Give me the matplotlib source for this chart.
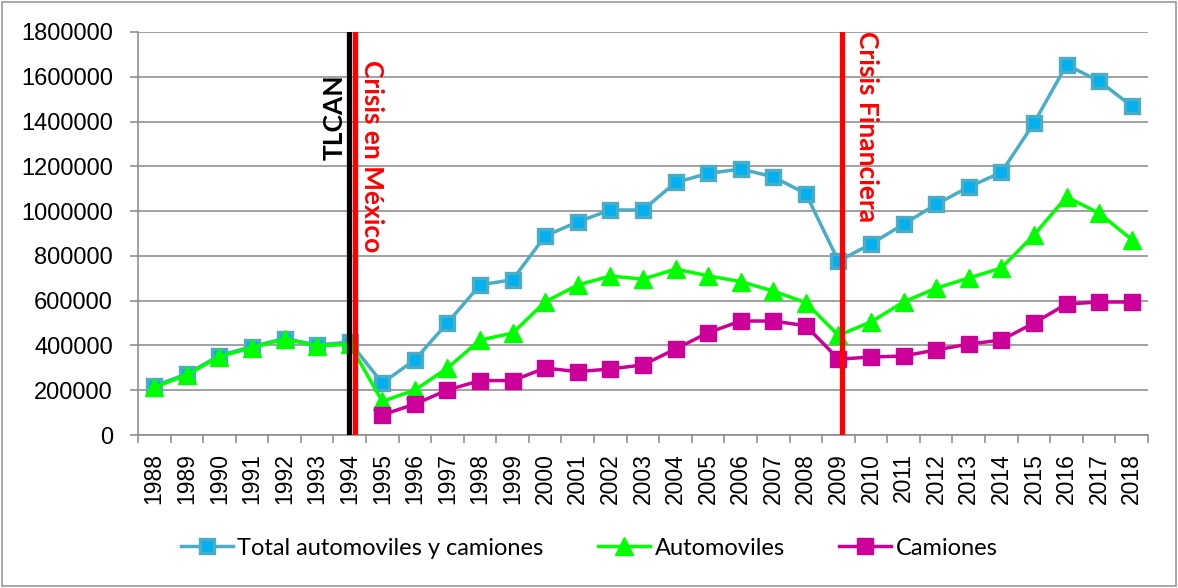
import matplotlib
matplotlib.use('Agg')
import matplotlib.pyplot as plt
from matplotlib.patches import Rectangle
import numpy as np

years = [str(y) for y in range(1988, 2019)]

total = [219000, 273000, 355000, 395000, 431000, 402000, 415000,
         232000, 336000, 501000, 670000, 694000, 889000, 952000,
         1005000, 1005000, 1128000, 1168000, 1188000, 1153000, 1078000,
         777000, 853000, 942000, 1030000, 1108000, 1173000, 1393000,
         1653000, 1581000, 1469000]

automoviles = [213000, 268000, 350000, 390000, 428000, 398000, 405000,
               150000, 201000, 299000, 424000, 455000, 595000, 670000,
               710000, 696000, 741000, 711000, 685000, 643000, 591000,
               445000, 505000, 594000, 656000, 701000, 746000, 893000,
               1063000, 991000, 873000]

camiones = [np.nan] * 7 + [
    90000, 138000, 201000, 243000, 243000, 299000, 283000,
    295000, 313000, 384000, 457000, 509000, 509000, 488000,
    339000, 348000, 353000, 380000, 406000, 424000, 500000,
    585000, 594000, 594000]

yticks = list(range(0, 1800001, 200000))

GRID = '#888888'
TICK_FONT = 'Liberation Sans'
TEXT_FONT = 'Lato'

fig = plt.figure(figsize=(11.78, 5.88), dpi=100)
ax = fig.add_axes([0.1171, 0.2602, 0.8574, 0.6854])

x = np.arange(len(years))

ax.plot(x, total, color='#4BACC6', lw=2.5, marker='s', ms=10.5,
        mfc='#00B0F0', mec='#4BACC6', mew=2.4,
        label='Total automoviles y camiones', zorder=3)
ax.plot(x, automoviles, color='#00FF00', lw=2.5, marker='^', ms=12.5,
        mfc='#00FF00', mec='#00FF00', label='Automoviles', zorder=4)
ax.plot(x, camiones, color='#CC0099', lw=2.5, marker='s', ms=11.5,
        mfc='#CC0099', mec='#CC0099', label='Camiones', zorder=5)

# event lines
ax.axvline(5.97, color='black', lw=3.8, zorder=6)
ax.axvline(6.15, color='#FF0000', lw=3.8, zorder=7)
ax.axvline(21.1, color='#FF0000', lw=3.8, zorder=7)

ax.text(5.55, 1420000, 'TLCAN', rotation=90, ha='center', va='center',
        fontsize=19, fontweight='bold', color='black', family=TEXT_FONT)
ax.text(6.69, 1246000, 'Crisis en México', rotation=270, ha='center',
        va='center', fontsize=19, fontweight='bold', color='#FF0000',
        family=TEXT_FONT)
ax.text(21.87, 1376000, 'Crisis Financiera', rotation=270, ha='center',
        va='center', fontsize=19, fontweight='bold', color='#FF0000',
        family=TEXT_FONT)

ax.set_xlim(-0.5, len(years) - 0.5)
ax.set_ylim(0, 1800000)
ax.set_yticks(yticks)
ax.set_yticklabels([str(v) for v in yticks], family=TICK_FONT, fontsize=17)
ax.set_xticks(x)
ax.set_xticklabels(years, rotation=90, family=TICK_FONT, fontsize=16.5)
ax.set_xticks(np.arange(-0.5, len(years), 1), minor=True)

ax.tick_params(axis='x', which='major', length=0, pad=13)
ax.tick_params(axis='x', which='minor', length=6, width=1.1, color=GRID)
ax.tick_params(axis='y', length=6, width=1.1, color=GRID, pad=12)

ax.yaxis.grid(True, color=GRID, lw=1.1)
ax.set_axisbelow(True)
for side in ['top', 'right']:
    ax.spines[side].set_visible(False)
for side in ['left', 'bottom']:
    ax.spines[side].set_color(GRID)
    ax.spines[side].set_linewidth(1.1)

fig.legend(loc='center', bbox_to_anchor=(0.5, 0.068), ncol=3, frameon=False,
           prop={'family': TEXT_FONT, 'size': 17}, handlelength=2.2,
           handletextpad=0.2, columnspacing=2.3)

fig.patches.append(Rectangle((0.002, 0.003), 0.996, 0.994,
                             transform=fig.transFigure, fill=False,
                             edgecolor='#999999', lw=1.2))

fig.savefig('out.png', dpi=100)
